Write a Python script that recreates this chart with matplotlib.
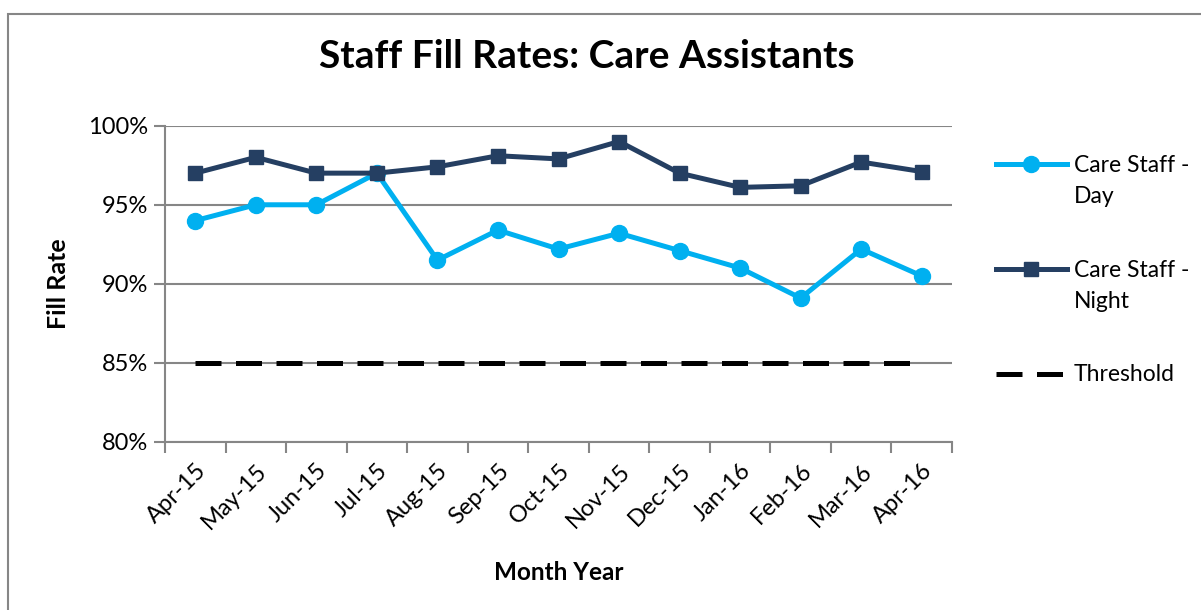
import matplotlib
matplotlib.use("Agg")
import matplotlib.pyplot as plt
from matplotlib.patches import Rectangle

plt.rcParams['font.family'] = ['Lato', 'DejaVu Sans']

# data
months = ['Apr-15', 'May-15', 'Jun-15', 'Jul-15', 'Aug-15', 'Sep-15', 'Oct-15',
          'Nov-15', 'Dec-15', 'Jan-16', 'Feb-16', 'Mar-16', 'Apr-16']
day = [0.940, 0.950, 0.950, 0.970, 0.915, 0.934, 0.922, 0.932, 0.921, 0.910, 0.891, 0.922, 0.905]
night = [0.970, 0.980, 0.970, 0.970, 0.974, 0.981, 0.979, 0.990, 0.970, 0.961, 0.962, 0.977, 0.971]
threshold = [0.85] * 13

grey = '#868686'

fig = plt.figure(figsize=(12.01, 6.10), dpi=100)
fig.patch.set_facecolor('white')
# outer chart border (cut off at right and bottom like the reference)
fig.patches.append(Rectangle((8 / 1201, -0.1), 1.2, 1.1 - 14 / 610, transform=fig.transFigure,
                             fill=False, edgecolor=grey, lw=1.5))

ax = fig.add_axes([165 / 1201, 1 - 442 / 610, (952 - 165) / 1201, (442 - 125.7) / 610])
x = list(range(len(months)))

ax.plot(x, day, color='#00B0F0', lw=3.6, marker='o', ms=11.5, label='Care Staff -\nDay', zorder=3)
ax.plot(x, night, color='#253F62', lw=3.6, marker='s', ms=10.5, label='Care Staff -\nNight', zorder=4)
ax.plot(x, threshold, color='black', lw=3.6, linestyle=(0, (5.2, 2.9)), label='Threshold', zorder=2)

ax.set_ylim(0.80, 1.00)
ax.set_yticks([0.80, 0.85, 0.90, 0.95, 1.00])
ax.set_yticklabels(['80%', '85%', '90%', '95%', '100%'])
ax.set_xlim(-0.5, len(months) - 0.5)
ax.set_xticks(x)
ax.set_xticklabels(months, rotation=45, ha='right', rotation_mode='anchor')
ax.set_xticks([i - 0.5 for i in range(len(months) + 1)], minor=True)
ax.tick_params(axis='x', which='major', length=0, labelsize=17, pad=13)
ax.tick_params(axis='x', which='minor', length=8, width=1.5, color=grey)
ax.tick_params(axis='y', length=8, width=1.5, color=grey, labelsize=17, pad=4)

ax.grid(True, axis='y', color=grey, lw=1.5)
ax.set_axisbelow(True)
for s in ['top', 'right']:
    ax.spines[s].set_visible(False)
for s in ['left', 'bottom']:
    ax.spines[s].set_color(grey)
    ax.spines[s].set_linewidth(1.5)

ax.set_ylabel('Fill Rate', fontsize=18, fontweight='bold', labelpad=13)
ax.set_xlabel('Month Year', fontsize=17.5, fontweight='bold', labelpad=20)
fig.text(587 / 1201, 1 - 57 / 610, 'Staff Fill Rates: Care Assistants', fontsize=28,
         fontweight='bold', ha='center', va='center')

leg = fig.legend(loc='upper left', bbox_to_anchor=(975 / 1201, 1 - 134 / 610), frameon=False,
                 fontsize=16.5, handlelength=3.1, handleheight=1.2, labelspacing=2.3,
                 handletextpad=0.3)
for t in leg.get_texts():
    t.set_linespacing(1.6)
# put each handle beside the first line of its label
for col in leg._legend_handle_box.get_children():
    for row in col.get_children():
        row.align = 'top'

fig.savefig('out.png', dpi=100)
